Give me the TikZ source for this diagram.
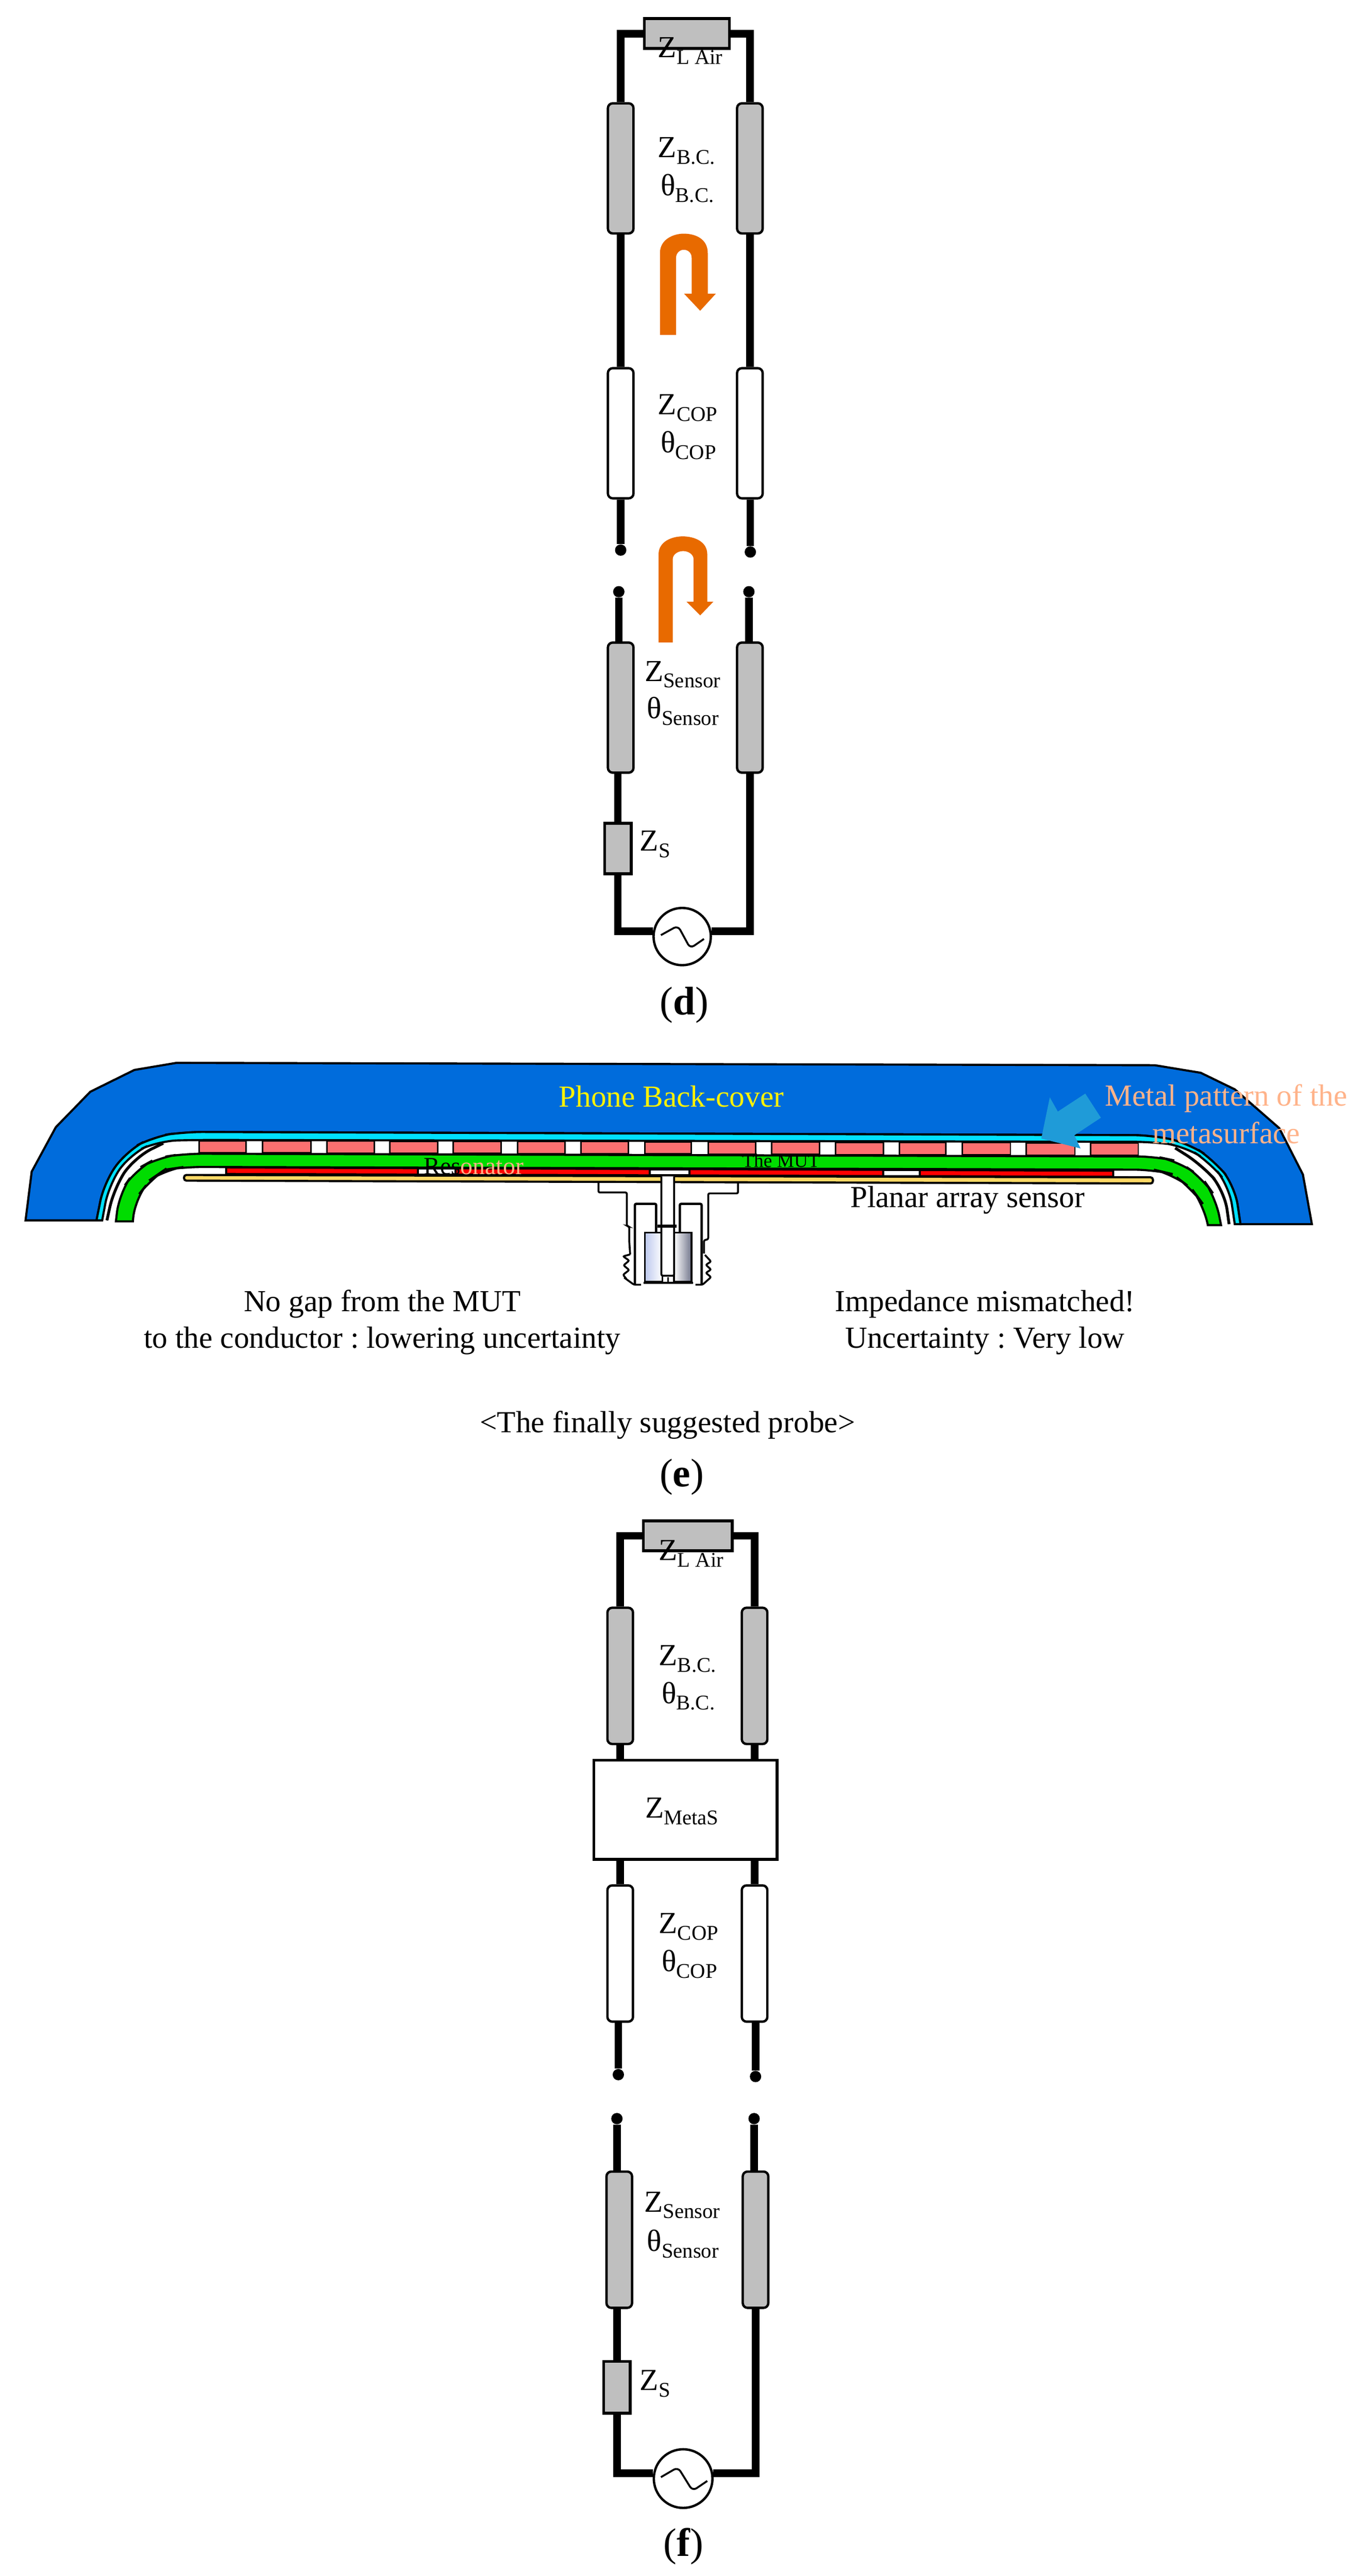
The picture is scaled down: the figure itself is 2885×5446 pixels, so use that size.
\documentclass[tikz,border=0pt]{standalone}
\usepackage{fontspec}
\setmainfont{Liberation Serif}
\definecolor{coverblue}{HTML}{006CDC}
\definecolor{filmcyan}{HTML}{00E0FF}
\definecolor{metalpink}{HTML}{FB7070}
\definecolor{mutgreen}{HTML}{00DC00}
\definecolor{sensorgold}{HTML}{FFD966}
\definecolor{linegray}{HTML}{BFBFBF}
\definecolor{bendorange}{HTML}{E86A00}
\definecolor{pointerblue}{HTML}{1F9BD8}
\definecolor{notepeach}{HTML}{FFB38A}
\definecolor{pinsilver}{HTML}{BCC8EE}
\definecolor{pindark}{HTML}{70748A}
\newcommand{\lowsub}[1]{\raisebox{-1.4mm}{\fontsize{12.6}{15}\selectfont #1}}
\frenchspacing
\begin{document}
\begin{tikzpicture}[x=0.1mm,y=-0.1mm]
\tikzstyle{every node}+=[inner sep=0pt]
\tikzstyle{wire}=[line width=1.6mm,line join=miter]
\tikzstyle{tline}=[draw,line width=0.5mm,rounded corners=1mm,minimum width=5.4mm,minimum height=27.5mm]
\tikzstyle{tlinef}=[tline,minimum height=28.8mm]
\tikzstyle{lumped}=[draw,line width=0.6mm,fill=linegray]
\tikzstyle{gapdot}=[circle,fill=black,minimum size=2.4mm]
\tikzstyle{source}=[circle,draw,fill=white,line width=0.5mm,minimum size=12.1mm]
\tikzstyle{sinewave}=[line width=0.4mm,rounded corners=1mm]
\tikzstyle{lab}=[anchor=base west,font=\fontsize{18.4}{22}\selectfont]
\tikzstyle{note}=[anchor=base,font=\fontsize{18.4}{22}\selectfont]
\tikzstyle{caption}=[anchor=base,font=\fontsize{24}{27}\selectfont]
\tikzstyle{layer}=[draw=black,line width=0.45mm]
\tikzstyle{probe}=[line width=0.4mm,rounded corners=0.3mm]
\useasboundingbox (0,0) rectangle (2885,5446);
% circuit of (d)
\node [lumped,minimum width=18mm,minimum height=6.3mm] (zLd) at (1452,71) {};
\node [tline,fill=linegray] (tlBCdl) at (1312,356) {};
\node [tline,fill=linegray] (tlBCdr) at (1585,356) {};
\node [tline,fill=white] (tlCOPdl) at (1312,916) {};
\node [tline,fill=white] (tlCOPdr) at (1585,916) {};
\node [gapdot] (dotAdl) at (1312,1163) {};
\node [gapdot] (dotAdr) at (1586,1167) {};
\node [gapdot] (dotBdl) at (1308,1251) {};
\node [gapdot] (dotBdr) at (1583,1251) {};
\node [tline,fill=linegray] (tlSdl) at (1312,1496) {};
\node [tline,fill=linegray] (tlSdr) at (1585,1496) {};
\node [lumped,minimum width=5.6mm,minimum height=10.7mm] (zSd) at (1306,1794) {};
\node [source] (srcd) at (1442,1980) {};
\draw [wire] (tlBCdl.north) |- (zLd.west);
\draw [wire] (tlBCdr.north) |- (zLd.east);
\draw [wire] (tlBCdl.south) -- (tlCOPdl.north);
\draw [wire] (tlBCdr.south) -- (tlCOPdr.north);
\draw [wire] (dotAdl |- tlCOPdl.south) -- (dotAdl);
\draw [wire] (dotAdr |- tlCOPdr.south) -- (dotAdr);
\draw [wire] (dotBdl) -- (dotBdl |- tlSdl.north);
\draw [wire] (dotBdr) -- (dotBdr |- tlSdr.north);
\draw [wire] (zSd.north |- tlSdl.south) -- (zSd.north);
\draw [wire] (zSd.south) |- (srcd.170);
\draw [wire] (srcd.10) -| (tlSdr.south);
\draw [sinewave] (1397,1977) -- (1433,1957) -- (1459,2005) -- (1488,1985);
\fill [bendorange] (1395,708) -- (1395,535) .. controls (1395,505) and (1425,494) .. (1445,494) .. controls (1470,494) and (1496,505) .. (1496,535) -- (1496,621) -- (1513,621) -- (1480,657) -- (1446,621) -- (1462,621) -- (1462,545) .. controls (1462,535) and (1455,528) .. (1445,528) .. controls (1437,528) and (1429,535) .. (1429,545) -- (1429,708) -- cycle;
\fill [bendorange] (1392,1358) -- (1392,1172) .. controls (1392,1145) and (1420,1134) .. (1443,1134) .. controls (1468,1134) and (1495,1145) .. (1495,1172) -- (1495,1272) -- (1508,1272) -- (1480,1301) -- (1451,1272) -- (1466,1272) -- (1466,1182) .. controls (1466,1172) and (1455,1165) .. (1444,1165) .. controls (1433,1165) and (1422,1172) .. (1422,1182) -- (1422,1358) -- cycle;
\node [lab] (labZLd) at (1390,122) {Z\lowsub{L Air}};
\node [lab] (labZBCd) at (1390,333) {Z\lowsub{B.C.}};
\node [lab] (labThBCd) at (1396,413) {θ\lowsub{B.C.}};
\node [lab] (labZCOPd) at (1390,876) {Z\lowsub{COP}};
\node [lab] (labThCOPd) at (1396,957) {θ\lowsub{COP}};
\node [lab] (labZSensd) at (1362,1440) {Z\lowsub{Sensor}};
\node [lab] (labThSensd) at (1367,1519) {θ\lowsub{Sensor}};
\node [lab] (labZSd) at (1352,1799) {Z\lowsub{S}};
\node [caption] (capd) at (1446,2145) {(\textbf{d})};
% cross-section of the probe (e)
\draw [layer,fill=coverblue] (54,2580) -- (67,2477) -- (118,2383) -- (191,2308) -- (284,2262) -- (373,2247) -- (2441,2252) -- (2538,2268) -- (2610,2303) -- (2704,2385) -- (2754,2483) -- (2773,2588) -- (2622,2588) [rounded corners=4mm] -- (2610,2507) -- (2566,2453) -- (2512,2417) -- (2437,2400) -- (389,2393) -- (325,2403) -- (268,2433) -- (220,2500) [sharp corners] -- (204,2580) -- cycle;
\draw [layer,fill=filmcyan,rounded corners=4mm] (204,2580) -- (220,2500) -- (268,2433) -- (325,2403) -- (389,2393) -- (2437,2400) -- (2512,2417) -- (2566,2453) -- (2610,2507) [sharp corners] -- (2622,2588) -- (2610,2588) [rounded corners=4mm] -- (2598,2507) -- (2558,2458) -- (2504,2423) -- (2437,2414) -- (415,2410) -- (335,2412) -- (275,2440) -- (230,2505) [sharp corners] -- (216,2580) -- cycle;
\draw [line width=0.6mm,rounded corners=4mm] (226,2580) -- (241,2512) -- (284,2447) -- (345,2417);
\draw [line width=0.6mm,rounded corners=4mm] (2598,2588) -- (2588,2517) -- (2541,2463) -- (2484,2427);
\fill [metalpink,draw=black,line width=0.3mm] (421,2412) rectangle (520,2437);
\fill [metalpink,draw=black,line width=0.3mm] (555,2412) rectangle (657,2437);
\fill [metalpink,draw=black,line width=0.3mm] (691,2412) rectangle (791,2438);
\fill [metalpink,draw=black,line width=0.3mm] (824,2413) rectangle (925,2438);
\fill [metalpink,draw=black,line width=0.3mm] (958,2413) rectangle (1059,2438);
\fill [metalpink,draw=black,line width=0.3mm] (1094,2413) rectangle (1194,2439);
\fill [metalpink,draw=black,line width=0.3mm] (1228,2413) rectangle (1328,2439);
\fill [metalpink,draw=black,line width=0.3mm] (1363,2414) rectangle (1461,2439);
\fill [metalpink,draw=black,line width=0.3mm] (1497,2414) rectangle (1597,2440);
\fill [metalpink,draw=black,line width=0.3mm] (1631,2414) rectangle (1732,2440);
\fill [metalpink,draw=black,line width=0.3mm] (1766,2415) rectangle (1867,2441);
\fill [metalpink,draw=black,line width=0.3mm] (1901,2415) rectangle (1999,2441);
\fill [metalpink,draw=black,line width=0.3mm] (2034,2415) rectangle (2136,2441);
\fill [metalpink,draw=black,line width=0.3mm] (2169,2416) rectangle (2272,2442);
\fill [metalpink,draw=black,line width=0.3mm] (2305,2416) rectangle (2406,2442);
\draw [layer,fill=mutgreen] (245,2582) [rounded corners=4mm] -- (252,2523) -- (287,2473) -- (332,2448) -- (389,2439) -- (2443,2445) -- (2490,2455) -- (2541,2490) -- (2569,2530) [sharp corners] -- (2581,2590) -- (2553,2590) [rounded corners=4mm] -- (2544,2547) -- (2519,2513) -- (2478,2482) -- (2440,2473) -- (389,2467) -- (348,2473) -- (319,2493) -- (284,2537) [sharp corners] -- (281,2582) -- cycle;
\draw [layer,fill=red] (478,2468) -- (2353,2475) -- (2353,2488) -- (478,2482) -- cycle;
\draw [layer,fill=white] (883,2470) rectangle (963,2483);
\draw [layer,fill=white] (1373,2472) rectangle (1457,2485);
\draw [layer,fill=white] (1867,2474) rectangle (1944,2487);
\draw [layer,fill=sensorgold,rounded corners=0.5mm] (389,2484) -- (2437,2489) -- (2437,2502) -- (389,2496) -- cycle;
\fill [pointerblue] (2294,2312) -- (2327,2363) -- (2271,2400) -- (2284,2428) -- (2201,2407) -- (2219,2320) -- (2236,2350) -- cycle;
% coaxial connector
\draw [left color=pinsilver,right color=white,draw=black,line width=0.4mm] (1363,2606) rectangle (1400,2710);
\draw [left color=white,right color=pindark,draw=black,line width=0.4mm] (1425,2606) rectangle (1462,2710);
\draw [probe] (1360,2712) -- (1465,2712);
\draw [probe] (1265,2500) -- (1265,2521) -- (1325,2521) -- (1325,2592) -- (1330,2593) -- (1330,2623) -- (1332,2652);
\draw [probe] (1560,2500) -- (1560,2523) -- (1497,2523) -- (1497,2620) -- (1488,2622) -- (1488,2650);
\draw [probe] (1332,2652) -- (1317,2656) -- (1330,2665) -- (1318,2675) -- (1330,2685) -- (1317,2695) -- (1325,2705) -- (1318,2700) -- (1340,2716) -- (1355,2716);
\draw [probe] (1490,2653) -- (1503,2667) -- (1492,2674) -- (1503,2684) -- (1492,2691) -- (1503,2700) -- (1485,2716) -- (1470,2716);
\draw [probe,line width=0.5mm] (1342,2716) -- (1342,2545) -- (1387,2545) -- (1387,2604);
\draw [probe,line width=0.5mm] (1483,2716) -- (1483,2545) -- (1437,2545) -- (1437,2604);
\draw [probe,fill=white] (1398,2487) -- (1398,2697) -- (1425,2697) -- (1425,2487);
\draw [probe,line width=0.7mm] (1390,2592) -- (1430,2592);
\draw [probe] (1412,2700) -- (1412,2712);
% texts of (e)
\node [note,yellow] (labCover) at (1419,2340) {Phone Back-cover};
\node [note,notepeach] (labMetalA) at (2592,2338) {Metal pattern of the};
\node [note,notepeach] (labMetalB) at (2592,2417) {metasurface};
\node [anchor=base west,font=\fontsize{14.8}{17}\selectfont] (labReso) at (895,2483) {Res{\color{notepeach}onator}};
\node [anchor=base west,font=\fontsize{11.6}{14}\selectfont] (labMUT) at (1568,2468) {The MUT};
\node [note] (labPlanar) at (2045,2552) {Planar array sensor};
\node [note] (labGapA) at (808,2772) {No gap from the MUT};
\node [note] (labGapB) at (808,2850) {to the conductor : lowering uncertainty};
\node [note] (labImpA) at (2082,2772) {Impedance mismatched!};
\node [note] (labImpB) at (2082,2850) {Uncertainty : Very low};
\node [note] (labFinal) at (1411,3028) {<The finally suggested probe>};
\node [caption] (cape) at (1441,3143) {(\textbf{e})};
% circuit of (f)
\node [lumped,minimum width=18.8mm,minimum height=6.3mm] (zLf) at (1454,3247) {};
\node [tlinef,fill=linegray] (tlBCfl) at (1311,3543) {};
\node [tlinef,fill=linegray] (tlBCfr) at (1595,3543) {};
\node [draw,fill=white,line width=0.6mm,minimum width=38.7mm,minimum height=21mm] (metaf) at (1449,3826) {};
\node [tlinef,fill=white] (tlCOPfl) at (1311,4130) {};
\node [tlinef,fill=white] (tlCOPfr) at (1595,4130) {};
\node [gapdot] (dotAfl) at (1307,4386) {};
\node [gapdot] (dotAfr) at (1597,4390) {};
\node [gapdot] (dotBfl) at (1304,4479) {};
\node [gapdot] (dotBfr) at (1594,4479) {};
\node [tlinef,fill=linegray] (tlSfl) at (1309,4735) {};
\node [tlinef,fill=linegray] (tlSfr) at (1597,4735) {};
\node [lumped,minimum width=5.6mm,minimum height=10.9mm] (zSf) at (1304,5047) {};
\node [source,minimum size=12.4mm] (srcf) at (1444,5240) {};
\draw [wire] (tlBCfl.north) |- (zLf.west);
\draw [wire] (tlBCfr.north) |- (zLf.east);
\draw [wire] (tlBCfl.south) -- (tlBCfl.south |- metaf.north);
\draw [wire] (tlBCfr.south) -- (tlBCfr.south |- metaf.north);
\draw [wire] (tlCOPfl.north |- metaf.south) -- (tlCOPfl.north);
\draw [wire] (tlCOPfr.north |- metaf.south) -- (tlCOPfr.north);
\draw [wire] (dotAfl |- tlCOPfl.south) -- (dotAfl);
\draw [wire] (dotAfr |- tlCOPfr.south) -- (dotAfr);
\draw [wire] (dotBfl) -- (dotBfl |- tlSfl.north);
\draw [wire] (dotBfr) -- (dotBfr |- tlSfr.north);
\draw [wire] (zSf.north |- tlSfl.south) -- (zSf.north);
\draw [wire] (zSf.south) |- (srcf.170);
\draw [wire] (srcf.10) -| (tlSfr.south);
\draw [sinewave] (1397,5237) -- (1433,5216) -- (1464,5266) -- (1495,5245);
\node [lab] (labZLf) at (1392,3299) {Z\lowsub{L Air}};
\node [lab] (labZBCf) at (1392,3521) {Z\lowsub{B.C.}};
\node [lab] (labThBCf) at (1398,3601) {θ\lowsub{B.C.}};
\node [lab] (labZMeta) at (1363,3843) {Z\lowsub{MetaS}};
\node [lab] (labZCOPf) at (1392,4087) {Z\lowsub{COP}};
\node [lab] (labThCOPf) at (1398,4168) {θ\lowsub{COP}};
\node [lab] (labZSensf) at (1361,4676) {Z\lowsub{Sensor}};
\node [lab] (labThSensf) at (1367,4759) {θ\lowsub{Sensor}};
\node [lab] (labZSf) at (1352,5053) {Z\lowsub{S}};
\node [caption] (capf) at (1445,5404) {(\textbf{f})};
\end{tikzpicture}
\end{document}
